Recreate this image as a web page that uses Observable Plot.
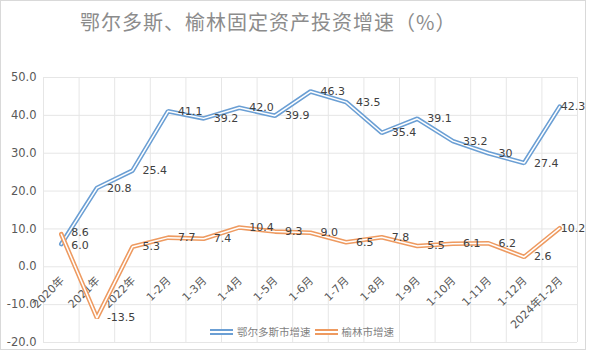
<!DOCTYPE html>
<html><head><meta charset="utf-8">
<script src="https://cdn.jsdelivr.net/npm/d3@7"></script>
<script src="https://cdn.jsdelivr.net/npm/@observablehq/plot@0.6"></script>
<style>
body{margin:0;background:#fff;}
#wrap{position:relative;width:589px;height:355px;overflow:hidden;font-family:"DejaVu Sans","Noto Sans CJK SC",sans-serif;background:#fff;}
#frame{position:absolute;left:0;top:0;width:584px;height:348px;border:1px solid #d9d9d9;}
#title{position:absolute;left:80px;top:7px;text-align:left;font-family:"Noto Sans CJK SC",sans-serif;font-size:20px;letter-spacing:1px;color:#8c8c8c;white-space:nowrap;}
#chart{position:absolute;left:0;top:40px;}
#legend{position:absolute;left:210px;top:325px;height:14px;font-family:"Noto Sans CJK SC",sans-serif;font-size:10.5px;line-height:14px;color:#7f7f7f;display:flex;align-items:center;white-space:nowrap;}
.sw{display:inline-block;width:23px;height:1.2px;background:#fff;margin-right:4px;}
</style>
</head><body>
<div id="wrap">
  <div id="frame"></div>
  <div id="title"></div>
  <div id="chart"></div>
  <div id="legend"></div>
</div>
<script>
const title = "鄂尔多斯、榆林固定资产投资增速（%）";
const categories = ["2020年","2021年","2022年","1-2月","1-3月","1-4月","1-5月","1-6月","1-7月","1-8月","1-9月","1-10月","1-11月","1-12月","2024年1-2月"];
const seriesNames = ["鄂尔多斯市增速","榆林市增速"];
const ordosValues = ["6.0","20.8","25.4","41.1","39.2","42.0","39.9","46.3","43.5","35.4","39.1","33.2","30","27.4","42.3"];
const yulinValues = ["8.6","-13.5","5.3","7.7","7.4","10.4","9.3","9.0","6.5","7.8","5.5","6.1","6.2","2.6","10.2"];
const yTicks = [-20,-10,0,10,20,30,40,50];
const colors = ["#6b9fd4","#ee9a60"];

document.getElementById("title").textContent = title;

const series = [ordosValues, yulinValues].map((vals, s) =>
  vals.map((t, i) => ({i, v: +t, label: t, s}))
);
const last = categories.length - 1;

const marks = [
  Plot.gridY(yTicks, {stroke: "#e6e6e6", strokeOpacity: 1}),
  Plot.ruleX(d3.range(categories.length + 1).map(i => i - 0.5), {stroke: "#e6e6e6"}),
  Plot.axisY(yTicks, {tickSize: 0, tickPadding: 7, tickFormat: d => d.toFixed(1), fontSize: 11.5, fill: "#595959", label: null}),
  Plot.text(categories, {x: (d, i) => i, y: () => 0, text: d => d, rotate: -45, textAnchor: "end", dy: 12, dx: 1, fontSize: 11, fill: "#595959"})
];
series.forEach((data, s) => {
  marks.push(Plot.line(data, {x: "i", y: "v", stroke: colors[s], strokeWidth: 4.6, strokeLinejoin: "miter"}));
  marks.push(Plot.line(data, {x: "i", y: "v", stroke: "#ffffff", strokeWidth: 1.5, strokeLinejoin: "miter"}));
});
series.forEach((data, s) => {
  marks.push(Plot.text(data.filter(d => d.i > 0 && d.i < last), {x: "i", y: "v", text: "label", dx: 10, textAnchor: "start", fontSize: 11, fill: "#404040"}));
  marks.push(Plot.text(data.filter(d => d.i === 0), {x: "i", y: "v", text: "label", dx: 10, dy: s === 0 ? 1.5 : -1.5, textAnchor: "start", fontSize: 11, fill: "#404040"}));
  marks.push(Plot.text(data.filter(d => d.i === last), {x: "i", y: "v", text: "label", dx: 1, textAnchor: "start", fontSize: 11, fill: "#404040"}));
});

const chart = Plot.plot({
  width: 589,
  height: 315,
  marginTop: 37,
  marginBottom: 13,
  marginLeft: 43,
  marginRight: 12,
  style: {fontFamily: '"DejaVu Sans","Noto Sans CJK SC",sans-serif', background: "transparent"},
  x: {type: "linear", domain: [-0.5, categories.length - 0.5], axis: null},
  y: {domain: [-20, 50], axis: null},
  marks
});
document.getElementById("chart").appendChild(chart);

const legend = document.getElementById("legend");
seriesNames.forEach((n, s) => {
  const sw = document.createElement("span");
  sw.className = "sw";
  sw.style.borderTop = `2px solid ${colors[s]}`;
  sw.style.borderBottom = `2px solid ${colors[s]}`;
  const t = document.createElement("span");
  t.textContent = n;
  t.style.marginRight = s === 0 ? "4px" : "0";
  legend.appendChild(sw);
  legend.appendChild(t);
});
</script>
</body></html>
